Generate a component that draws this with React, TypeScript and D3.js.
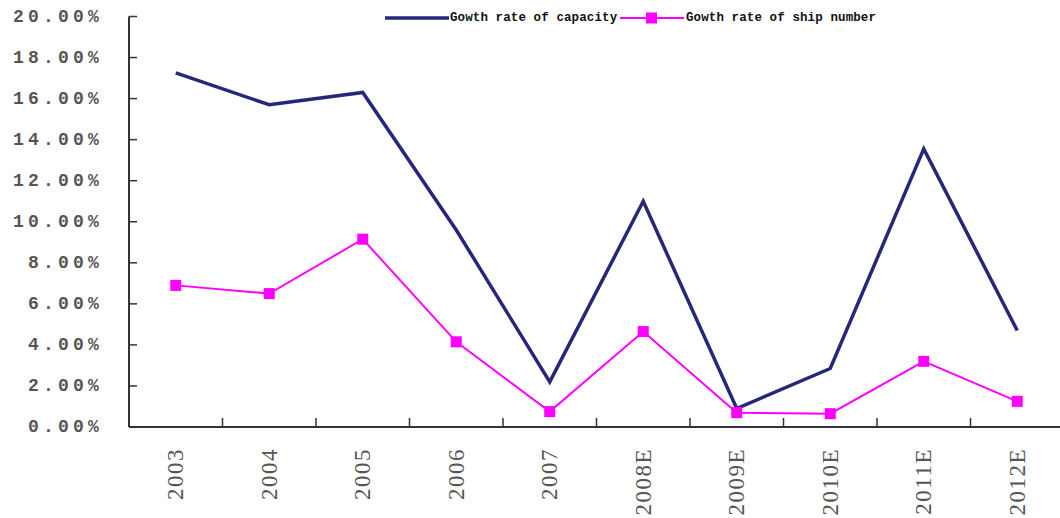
import React from "react";
import * as d3 from "d3";

const years = ["2003", "2004", "2005", "2006", "2007", "2008E", "2009E", "2010E", "2011E", "2012E"];
const capacityGrowth = [17.25, 15.7, 16.3, 9.6, 2.2, 11.0, 0.9, 2.85, 13.55, 4.7];
const shipNumberGrowth = [6.9, 6.5, 9.15, 4.15, 0.75, 4.65, 0.7, 0.65, 3.2, 1.25];
const yTicks = [0, 2, 4, 6, 8, 10, 12, 14, 16, 18, 20];
const seriesNames = ["Gowth rate of capacity", "Gowth rate of ship number"];

const W = 1060;
const H = 518;
const CAP_COLOR = "#27277a";
const SHIP_COLOR = "#ff00ff";
const AXIS_COLOR = "#333";

export default function App() {
  const x = d3.scaleBand<string>().domain(years).range([129, 1064]).padding(0);
  const y = d3.scaleLinear().domain([0, 20]).range([427, 16.5]);
  const cx = (d: string) => (x(d) ?? 0) + x.bandwidth() / 2;

  const line = d3
    .line<number>()
    .x((_, i) => cx(years[i]))
    .y((v) => y(v));

  const x0 = x.range()[0];
  const y0 = y(0);

  return (
    <svg
      width={W}
      height={H}
      viewBox={`0 0 ${W} ${H}`}
      style={{ position: "absolute", left: 0, top: 0, background: "#fff" }}
    >
      {/* y axis */}
      <line x1={x0} x2={x0} y1={y(20)} y2={y0} stroke={AXIS_COLOR} strokeWidth={2} />
      {yTicks.map((t) => (
        <g key={t}>
          <line x1={x0} x2={x0 + 8} y1={y(t)} y2={y(t)} stroke={AXIS_COLOR} strokeWidth={1.5} />
          <text
            x={103}
            y={y(t)}
            textAnchor="end"
            dominantBaseline="central"
            fontFamily="'Liberation Mono', 'DejaVu Sans Mono', monospace"
            fontWeight="bold"
            fontSize={18}
            letterSpacing={4.2}
            fill="#555"
          >
            {t.toFixed(2) + "%"}
          </text>
        </g>
      ))}

      {/* x axis */}
      <line x1={x0} x2={W} y1={y0} y2={y0} stroke={AXIS_COLOR} strokeWidth={2} />
      {years.slice(1).map((d) => (
        <line
          key={d}
          x1={x(d)}
          x2={x(d)}
          y1={y0}
          y2={y0 - 9}
          stroke={AXIS_COLOR}
          strokeWidth={1.5}
        />
      ))}
      {years.map((d) => (
        <text
          key={d}
          transform={`translate(${cx(d)},448) rotate(-90)`}
          textAnchor="end"
          dominantBaseline="central"
          fontFamily="'Liberation Serif', 'DejaVu Serif', serif"
          fontSize={23}
          letterSpacing={1.5}
          fill="#555"
        >
          {d}
        </text>
      ))}

      {/* series */}
      <path d={line(capacityGrowth) ?? ""} fill="none" stroke={CAP_COLOR} strokeWidth={3.5} strokeLinejoin="miter" />
      <path d={line(shipNumberGrowth) ?? ""} fill="none" stroke={SHIP_COLOR} strokeWidth={2} />
      {shipNumberGrowth.map((v, i) => (
        <rect
          key={years[i]}
          x={cx(years[i]) - 5.5}
          y={y(v) - 5.5}
          width={11}
          height={11}
          fill={SHIP_COLOR}
        />
      ))}

      {/* legend */}
      <g fontFamily="'Liberation Mono', 'DejaVu Sans Mono', monospace" fontWeight="bold" fontSize={12.5} fill="#111">
        <line x1={385} x2={449} y1={18} y2={18} stroke={CAP_COLOR} strokeWidth={3.5} />
        <text x={450} y={18} dominantBaseline="central" letterSpacing={0.1}>
          {seriesNames[0]}
        </text>
        <line x1={620} x2={684} y1={18} y2={18} stroke={SHIP_COLOR} strokeWidth={2} />
        <rect x={646} y={12.5} width={11} height={11} fill={SHIP_COLOR} />
        <text x={686} y={18} dominantBaseline="central" letterSpacing={0.1}>
          {seriesNames[1]}
        </text>
      </g>
    </svg>
  );
}
